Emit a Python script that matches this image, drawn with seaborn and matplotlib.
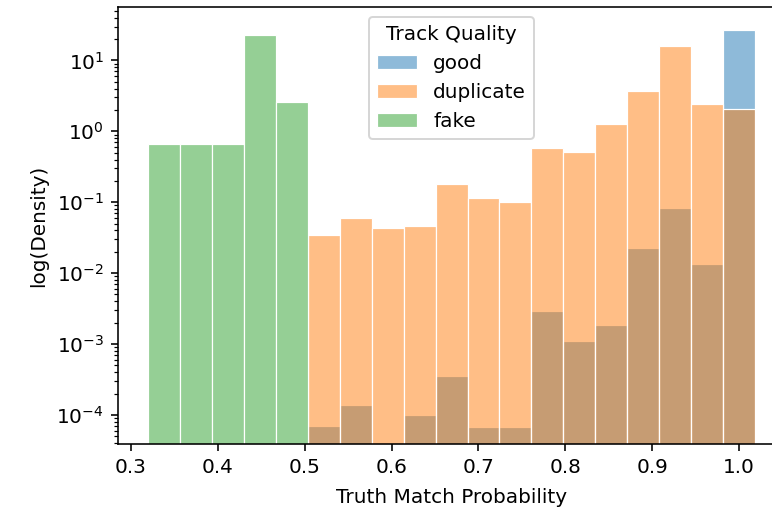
import numpy as np
import pandas as pd
import matplotlib
matplotlib.use("Agg")
import matplotlib.pyplot as plt
import seaborn as sns

# bin centres (Truth Match Probability) and density values
good_x = [0.522, 0.559, 0.632, 0.669, 0.706, 0.743, 0.779, 0.816, 0.853, 0.890, 0.926, 0.963, 1.000]
good_d = [6.9e-5, 1.40e-4, 1.01e-4, 3.49e-4, 6.8e-5, 6.8e-5, 2.97e-3, 1.12e-3, 1.88e-3, 0.0227, 0.0832, 0.0135, 26.9]

dup_x = [0.522, 0.559, 0.596, 0.632, 0.669, 0.706, 0.743, 0.779, 0.816, 0.853, 0.890, 0.926, 0.963, 1.000]
dup_d = [0.035, 0.060, 0.043, 0.046, 0.181, 0.115, 0.101, 0.583, 0.506, 1.27, 3.66, 16.1, 2.43, 2.07]

fake_x = [0.338, 0.375, 0.412, 0.448, 0.485]
fake_d = [0.66, 0.66, 0.66, 22.5, 2.6]

hue_order = ["good", "duplicate", "fake"]

df = pd.DataFrame({
    "Truth Match Probability": good_x + dup_x + fake_x,
    "w": good_d + dup_d + fake_d,
    "Track Quality": ["good"] * len(good_x) + ["duplicate"] * len(dup_x) + ["fake"] * len(fake_x),
})

W, H, DPI = 772, 507, 144
fig = plt.figure(figsize=(W / DPI, H / DPI), dpi=DPI)
ax = fig.add_axes([117.8 / W, (H - 444.3) / H, (785.3 - 117.8) / W, (444.3 - 7.3) / H])

sns.histplot(
    data=df, x="Truth Match Probability", weights="w", hue="Track Quality",
    hue_order=hue_order, bins=19, binrange=(0.3197, 1.0184), stat="count",
    edgecolor="white", linewidth=0.6, ax=ax,
)
# first hue level drawn at the bottom (good under duplicate under fake)
n = len(ax.containers)
for i, cont in enumerate(ax.containers):
    for p in cont:
        p.set_zorder(1 + 0.1 * (n - i))

ax.set_yscale("log")
ax.set_ylim(3.86e-5, 56)
ax.set_xlim(0.2848, 1.0533)
ax.set_ylabel("log(Density)")
ax.set_xlabel("Truth Match Probability", labelpad=5.5)
sns.move_legend(ax, "upper center")

fig.savefig("out.png", dpi=DPI)
